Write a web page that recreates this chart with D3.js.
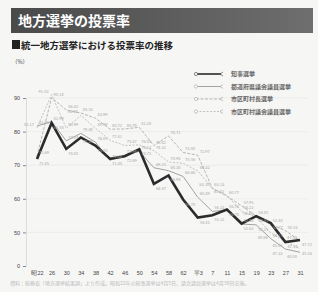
<!DOCTYPE html>
<html>
<head>
<meta charset="utf-8">
<script src="https://cdn.jsdelivr.net/npm/d3@7.9.0/dist/d3.min.js"></script>
<style>
  body { margin: 0; background: #f6f6f5; }
  svg { display: block; font-family: "Noto Sans CJK JP", "Noto Sans", sans-serif; }
</style>
</head>
<body>
<svg width="318" height="292"></svg>
<script>
// election years (unified local elections)
const years = ['昭22','26','30','34','38','42','46','50','54','58','62','平3','7','11','15','19','23','27','31'];

// turnout (%) per election type
const governor = [71.85, 82.58, 74.85, 78.25, 75.85, 71.88, 72.69, 74.72, 64.47, 66.94, 59.78, 54.43, 55.12, 56.78, 52.63, 54.85, 52.77, 47.14, 47.72];
const prefAssembly = [81.65, 82.99, 77.24, 79.48, 76.85, 71.48, 72.94, 74.13, 69.25, 68.36, 66.66, 60.49, 56.23, 56.70, 52.48, 52.25, 48.15, 45.05, 44.08];
const mayor = [72.69, 90.14, 86.42, 85.53, 83.99, 80.72, 80.79, 81.28, 75.82, 78.71, 73.80, 72.97, 63.13, 60.77, 57.95, 54.85, 52.40, 50.53, 47.50];
const cityAssembly = [81.17, 91.02, 80.99, 84.80, 80.99, 77.41, 75.87, 76.05, 74.31, 70.98, 70.56, 68.32, 63.10, 61.03, 56.23, 54.60, 49.86, 47.33, 45.16];

const seriesNames = ['知事選挙', '都道府県議会議員選挙', '市区町村長選挙', '市区町村議会議員選挙'];

const yTicks = [40, 50, 60, 70, 80, 90];
const yTickLabels = ['0', '50', '60', '70', '80', '90'];

const svg = d3.select('svg');

// title banner
const grad = svg.append('defs').append('linearGradient').attr('id', 'banner');
grad.append('stop').attr('offset', '0%').attr('stop-color', '#4a4a4a');
grad.append('stop').attr('offset', '100%').attr('stop-color', '#6e6e6e');
svg.append('rect').attr('x', 11).attr('y', 8).attr('width', 302).attr('height', 25).attr('fill', 'url(#banner)');
svg.append('text').attr('x', 18).attr('y', 26).attr('fill', '#fff')
  .attr('font-size', 14).attr('font-weight', 'bold').text('地方選挙の投票率');

// subtitle
svg.append('rect').attr('x', 12).attr('y', 40).attr('width', 8).attr('height', 9).attr('fill', '#222');
svg.append('text').attr('x', 21).attr('y', 49).attr('fill', '#222')
  .attr('font-size', 9.5).attr('font-weight', 'bold').text('統一地方選挙における投票率の推移');

svg.append('text').attr('x', 12).attr('y', 64).attr('fill', '#444').attr('font-size', 5.5).text('（%）');

// scales
const x = d3.scalePoint().domain(years).range([37, 300]);
const y = d3.scaleLinear().domain([40, 90]).range([266, 98]);

// gridlines
svg.append('g').selectAll('line').data(yTicks.slice(1)).join('line')
  .attr('x1', 26).attr('x2', 308)
  .attr('y1', d => y(d)).attr('y2', d => y(d))
  .attr('stroke', '#e6e6e6').attr('stroke-width', 0.6);

// y axis
const yAxis = svg.append('g').attr('transform', 'translate(26,0)')
  .call(d3.axisLeft(y).tickValues(yTicks).tickSize(3).tickFormat((d, i) => yTickLabels[i]));
yAxis.select('.domain').attr('stroke', '#ddd');
yAxis.selectAll('.tick line').attr('stroke', '#888');
yAxis.selectAll('text').attr('font-size', 5.5).attr('fill', '#444');

// x labels
svg.append('g').attr('transform', 'translate(0,266)')
  .call(d3.axisBottom(x).tickSize(0).tickPadding(5))
  .call(g => g.select('.domain').remove())
  .selectAll('text').attr('font-size', 5.5).attr('fill', '#444');

// lines
const allSeries = [governor, prefAssembly, mayor, cityAssembly];
const strokes = ['#2b2b2b', '#a3a3a3', '#b6b6b6', '#c2c2c2'];
const widths = [2.6, 1, 1, 1];
const dashes = [null, null, '3,1.5', '2,1.5'];

const line = d3.line().x((d, i) => x(years[i])).y(d => y(d));

// draw light lines first so the dark one sits on top
[3, 2, 1, 0].forEach(k => {
  svg.append('path').datum(allSeries[k])
    .attr('d', line).attr('fill', 'none')
    .attr('stroke', strokes[k]).attr('stroke-width', widths[k])
    .attr('stroke-dasharray', dashes[k]);
});

// value labels, placed greedily so they don't pile up
const labelLayer = svg.append('g');
const placed = [];
const hits = (a) => placed.some(b => a.x < b.x + b.w + 0.5 && b.x < a.x + a.w + 0.5 && a.y < b.y + b.h + 0.5 && b.y < a.y + a.h + 0.5);
const dxs = [2, -13];
const dys = [-2, 6, -6, 10, -10, 14, -14, 18];
[0, 1, 2, 3].forEach(k => {
  allSeries[k].forEach((d, i) => {
    const t = labelLayer.append('text').attr('font-size', 4).attr('fill', '#a8a8a8').text(d.toFixed(2));
    const w = t.node().getComputedTextLength();
    const px = x(years[i]), py = y(d);
    const ys = k === 0 ? [6, -2, 10, -6, 14, -10, 18, -14] : dys;
    const xs = i === years.length - 1 ? [-13, 2] : dxs;
    let box = null;
    for (const dy of ys) {
      for (const dx of xs) {
        const cand = { x: px + dx, y: py + dy - 3.5, w: w, h: 4 };
        if (cand.x + w > 316) continue;
        if (!hits(cand)) { box = cand; break; }
      }
      if (box) break;
    }
    if (!box) box = { x: px - 13, y: py - 24, w: w, h: 4 };
    placed.push(box);
    t.attr('x', box.x).attr('y', box.y + 3.5);
  });
});

// legend
const legend = svg.append('g');
seriesNames.forEach((name, k) => {
  const ly = 74 + k * 12.5;
  legend.append('line').attr('x1', 196).attr('x2', 221).attr('y1', ly).attr('y2', ly)
    .attr('stroke', strokes[k]).attr('stroke-width', k === 0 ? 1.6 : 1)
    .attr('stroke-dasharray', dashes[k]);
  legend.append('circle').attr('cx', 196).attr('cy', ly).attr('r', 1.6)
    .attr('fill', '#fff').attr('stroke', k === 0 ? '#555' : '#aaa').attr('stroke-width', 0.7);
  legend.append('path').attr('d', `M223,${ly - 2}L220,${ly}L223,${ly + 2}`)
    .attr('fill', 'none').attr('stroke', k === 0 ? '#555' : '#aaa').attr('stroke-width', 0.7);
  legend.append('text').attr('x', 231).attr('y', ly + 2).attr('font-size', 6)
    .attr('font-weight', 'bold').attr('fill', '#666').text(name);
});

// source note
svg.append('text').attr('x', 10).attr('y', 285).attr('font-size', 5).attr('fill', '#bbb')
  .text('資料：総務省「地方選挙結果調」より作成。昭和22年の知事選挙は4月5日、議会議員選挙は4月30日実施。');
</script>
</body>
</html>
